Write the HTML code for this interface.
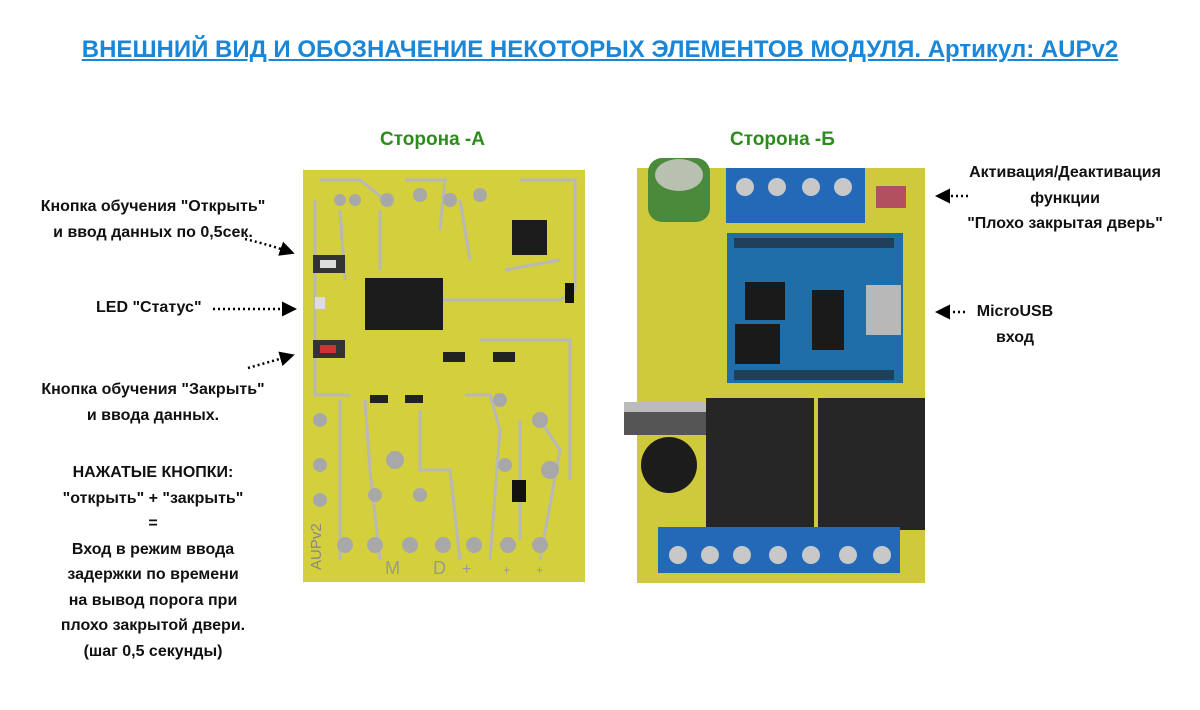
<!DOCTYPE html>
<html><head><meta charset="utf-8"><style>
body{margin:0;width:1200px;height:710px;background:#fff;position:relative;overflow:hidden;font-family:"Liberation Sans","DejaVu Sans",sans-serif;}
.t{position:absolute;font-weight:bold;font-size:16px;color:#111;text-align:center;line-height:25.5px;white-space:nowrap}
.g{position:absolute;font-weight:bold;font-size:19px;color:#2e8b1e}
</style></head><body>
<div style="position:absolute;left:0;width:1200px;top:36px;text-align:center;font-weight:bold;font-size:24px;color:#1a86d8;text-decoration:underline;">ВНЕШНИЙ ВИД И ОБОЗНАЧЕНИЕ НЕКОТОРЫХ ЭЛЕМЕНТОВ МОДУЛЯ. Артикул: AUPv2</div>
<div class="g" style="left:380px;top:129px">Сторона -А</div>
<div class="g" style="left:730px;top:129px">Сторона -Б</div>

<div class="t" style="left:18px;top:194px;width:270px">Кнопка обучения "Открыть"<br>и ввод данных по 0,5сек.</div>
<div class="t" style="left:96px;top:295px">LED "Статус"</div>
<div class="t" style="left:18px;top:377px;width:270px">Кнопка обучения "Закрыть"<br>и ввода данных.</div>
<div class="t" style="left:18px;top:460px;width:270px">НАЖАТЫЕ КНОПКИ:<br>"открыть" + "закрыть"<br>=<br>Вход в режим ввода<br>задержки по времени<br>на вывод порога при<br>плохо закрытой двери.<br>(шаг 0,5 секунды)</div>

<div class="t" style="left:945px;top:160px;width:240px">Активация/Деактивация<br>функции<br>"Плохо закрытая дверь"</div>
<div class="t" style="left:945px;top:299px;width:140px">MicroUSB<br>вход</div>

<svg width="1200" height="710" style="position:absolute;left:0;top:0">
<defs><marker id="a" markerWidth="6" markerHeight="6" refX="4" refY="3" orient="auto"><path d="M0,0L6,3L0,6z" fill="#000"/></marker></defs>
<g stroke="#000" stroke-width="2.5" stroke-dasharray="2,3" fill="none">
<path d="M245,239 Q270,245 290,252" marker-end="url(#a)"/>
<path d="M213,309 L292,309" marker-end="url(#a)"/>
<path d="M248,368 L290,356" marker-end="url(#a)"/>
<path d="M968,196 L940,196" marker-end="url(#a)"/>
<path d="M965,312 L940,312" marker-end="url(#a)"/>
</g>

<!-- Left PCB -->
<rect x="303" y="170" width="282" height="412" fill="#d4cf3c"/>
<g stroke="#b8b8b8" stroke-width="3" fill="none">
<path d="M315,200 L315,395 L350,395 M320,180 L360,180 L385,200 M405,180 L445,180 L440,230 M315,270 L340,270 M440,300 L560,300 L575,290 L575,180 L520,180"/>
<path d="M340,400 L340,560 M365,400 L370,470 L380,560 M420,410 L420,470 L450,470 L460,560 M465,395 L490,395 L500,430 L490,560 M520,420 L520,540 M540,420 L560,450 L540,560 M480,340 L570,340 L570,480 M505,270 L560,260 M340,210 L345,280 M380,210 L380,270 M460,200 L470,260"/>
</g>
<g fill="#a8a8a8">
<circle cx="320" cy="420" r="7"/><circle cx="320" cy="465" r="7"/><circle cx="320" cy="500" r="7"/><circle cx="345" cy="545" r="8"/><circle cx="375" cy="545" r="8"/><circle cx="410" cy="545" r="8"/><circle cx="443" cy="545" r="8"/><circle cx="474" cy="545" r="8"/><circle cx="508" cy="545" r="8"/><circle cx="540" cy="545" r="8"/>
<circle cx="387" cy="200" r="7"/><circle cx="420" cy="195" r="7"/><circle cx="450" cy="200" r="7"/><circle cx="480" cy="195" r="7"/><circle cx="340" cy="200" r="6"/><circle cx="355" cy="200" r="6"/>
<circle cx="395" cy="460" r="9"/><circle cx="375" cy="495" r="7"/><circle cx="420" cy="495" r="7"/><circle cx="500" cy="400" r="7"/><circle cx="540" cy="420" r="8"/><circle cx="550" cy="470" r="9"/><circle cx="505" cy="465" r="7"/>
</g>
<rect x="365" y="278" width="78" height="52" fill="#1c1c1c"/>
<rect x="512" y="220" width="35" height="35" fill="#1c1c1c"/>
<rect x="313" y="255" width="32" height="18" fill="#333"/><rect x="320" y="260" width="16" height="8" fill="#ddd"/>
<rect x="313" y="340" width="32" height="18" fill="#333"/><rect x="320" y="345" width="16" height="8" fill="#c33"/>
<rect x="315" y="297" width="10" height="12" fill="#ddd"/>
<rect x="512" y="480" width="14" height="22" fill="#111"/><rect x="565" y="283" width="9" height="20" fill="#111"/>
<rect x="443" y="352" width="22" height="10" fill="#222"/><rect x="493" y="352" width="22" height="10" fill="#222"/><rect x="370" y="395" width="18" height="8" fill="#222"/><rect x="405" y="395" width="18" height="8" fill="#222"/>
<text x="0" y="0" transform="translate(321,570) rotate(-90)" font-size="15" fill="#888" font-family="Liberation Sans">AUPv2</text>
<text x="385" y="574" font-size="18" fill="#999">M</text><text x="433" y="574" font-size="18" fill="#999">D</text>
<text x="462" y="574" font-size="16" fill="#999">+</text><text x="503" y="574" font-size="12" fill="#999">+</text><text x="536" y="574" font-size="12" fill="#999">+</text>

<!-- Right PCB -->
<rect x="637" y="168" width="288" height="415" fill="#cfc93c"/>
<rect x="648" y="158" width="62" height="64" rx="14" fill="#4a8a3a"/><ellipse cx="679" cy="175" rx="24" ry="16" fill="#b8c0b0"/>
<rect x="726" y="168" width="139" height="55" fill="#2369b8"/>
<g fill="#c8c8c8"><circle cx="745" cy="187" r="9"/><circle cx="777" cy="187" r="9"/><circle cx="811" cy="187" r="9"/><circle cx="843" cy="187" r="9"/></g>
<rect x="876" y="186" width="30" height="22" fill="#b35060"/>
<rect x="727" y="233" width="176" height="150" fill="#1f6ea8"/>
<rect x="745" y="282" width="40" height="38" fill="#1a1a1a"/><rect x="735" y="324" width="45" height="40" fill="#1a1a1a"/><rect x="812" y="290" width="32" height="60" fill="#1a1a1a"/>
<rect x="866" y="285" width="35" height="50" fill="#b8b8b8"/>
<rect x="734" y="238" width="160" height="10" fill="#222" opacity=".6"/><rect x="734" y="370" width="160" height="10" fill="#222" opacity=".6"/>
<rect x="624" y="402" width="82" height="33" fill="#555"/><rect x="624" y="402" width="82" height="10" fill="#bbb"/>
<circle cx="669" cy="465" r="28" fill="#1c1c1c"/>
<rect x="706" y="398" width="108" height="132" fill="#262626"/>
<rect x="818" y="398" width="107" height="132" fill="#262626"/>
<rect x="658" y="527" width="242" height="46" fill="#2369b8"/>
<g fill="#c8c8c8"><circle cx="678" cy="555" r="9"/><circle cx="710" cy="555" r="9"/><circle cx="742" cy="555" r="9"/><circle cx="778" cy="555" r="9"/><circle cx="811" cy="555" r="9"/><circle cx="848" cy="555" r="9"/><circle cx="882" cy="555" r="9"/></g>
</svg>
</body></html>
